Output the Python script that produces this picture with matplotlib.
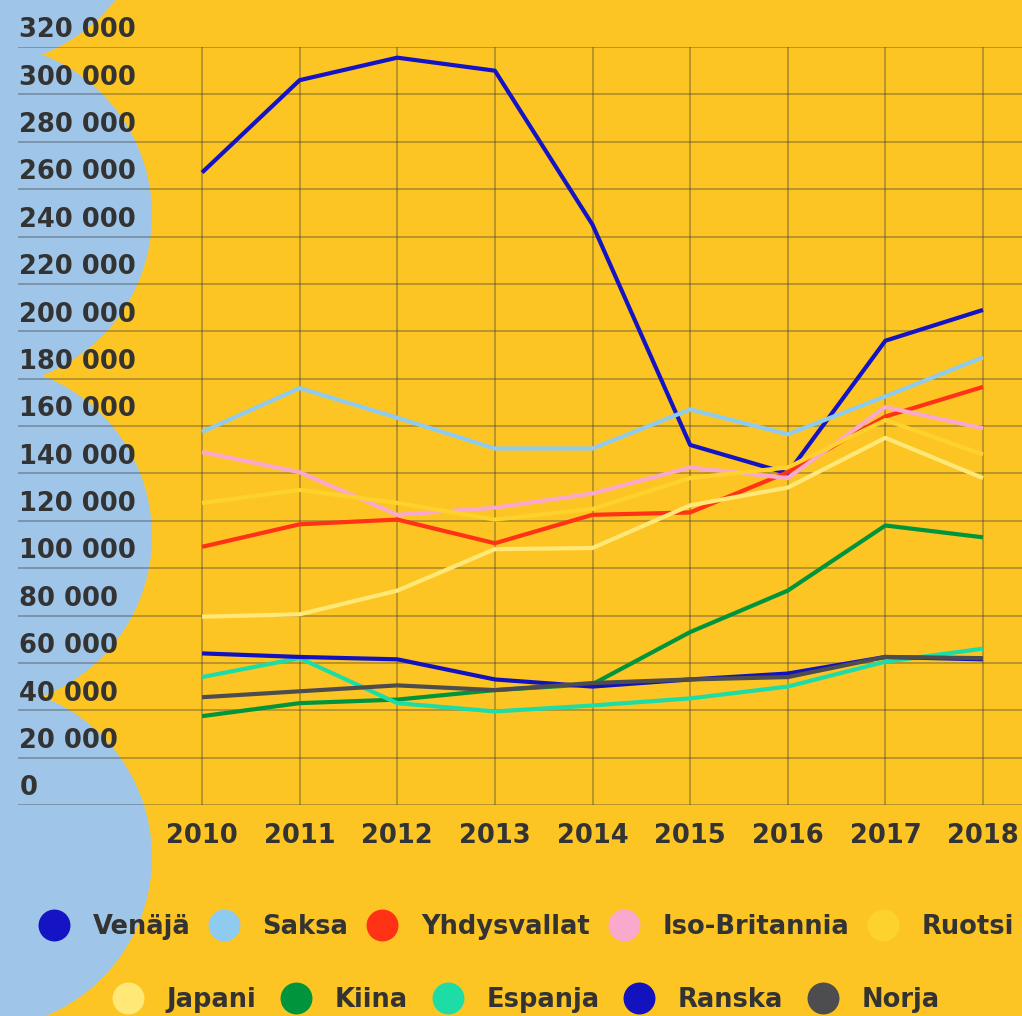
import matplotlib
matplotlib.use("Agg")
import matplotlib.pyplot as plt
from matplotlib.patches import Circle
from matplotlib.lines import Line2D

years = [2010, 2011, 2012, 2013, 2014, 2015, 2016, 2017, 2018]

venaja = [267000, 306000, 315500, 310000, 245000, 152000, 140000, 196000, 209000]
saksa = [157500, 176000, 163500, 150500, 150500, 167000, 156500, 172500, 189000]
yhdysvallat = [109000, 118500, 120500, 110500, 122500, 123500, 140500, 164000, 176500]
iso_britannia = [149000, 140500, 122500, 125500, 131500, 142500, 138000, 168000, 159000]
ruotsi = [127500, 133000, 127500, 120500, 125000, 138000, 142500, 162500, 148000]
japani = [79500, 80500, 90500, 108000, 108500, 126500, 134000, 155000, 138000]
kiina = [37500, 43000, 44500, 48500, 51000, 73000, 90500, 118000, 113000]
espanja = [54000, 62000, 43000, 39500, 42000, 45000, 50000, 60500, 66000]
ranska = [64000, 62500, 61500, 53000, 50000, 53000, 55500, 62500, 61500]
norja = [45500, 48000, 50500, 48500, 51500, 53000, 54000, 62500, 62000]

names = ["Venäjä", "Saksa", "Yhdysvallat", "Iso-Britannia", "Ruotsi",
         "Japani", "Kiina", "Espanja", "Ranska", "Norja"]
series = [venaja, saksa, yhdysvallat, iso_britannia, ruotsi,
          japani, kiina, espanja, ranska, norja]
colors = ["#1414c4", "#8ecbef", "#ff3216", "#f8a9cc", "#fdd22c",
          "#ffe877", "#00953d", "#1edca6", "#1212bf", "#4d4d4f"]

yticks = list(range(0, 320001, 20000))
ytick_labels = [f"{v:,}".replace(",", " ") for v in yticks]

BG = "#fdc523"
BLUE = "#9fc6e8"
TXT = "#333333"

fig = plt.figure(figsize=(10.22, 10.16), dpi=100, facecolor=BG)

# wavy blue shape on the left (background decoration, pixel coords)
bg = fig.add_axes([0, 0, 1, 1], zorder=-1)
bg.set_xlim(0, 1022)
bg.set_ylim(1016, 0)
bg.axis("off")
for cy in [-106, 215, 536, 857, 1178]:
    bg.add_patch(Circle((-20, cy), 172, color=BLUE, lw=0))

ax = fig.add_axes([18 / 1022, 211 / 1016, 1 - 18 / 1022, 758 / 1016])
ax.set_facecolor("none")
ax.set_xlim(2010 - 184 / 97.6, 2018 + 39 / 97.6)
ax.set_ylim(0, 320000)

# grid
for v in yticks:
    ax.axhline(v, color="#3a3a3a", alpha=0.38, lw=1.3, zorder=1)
for yr in years:
    ax.plot([yr, yr], [0, 320000], color="#3a3a3a", alpha=0.38, lw=1.3, zorder=1)

for name, vals, c in zip(names, series, colors):
    ax.plot(years, vals, color=c, lw=3.0, solid_capstyle="butt", zorder=3)

for s in ax.spines.values():
    s.set_visible(False)
ax.set_yticks([])
ax.set_xticks(years)
ax.set_xticklabels([str(y) for y in years], fontsize=18.5, fontweight="bold", color=TXT)
ax.tick_params(axis="x", length=0, pad=13)

for v, lab in zip(yticks, ytick_labels):
    ax.annotate(lab, xy=(0, v), xycoords=("axes fraction", "data"),
                xytext=(1, 7), textcoords="offset points",
                ha="left", va="baseline", fontsize=18.5, fontweight="bold",
                color=TXT)

def make_handles(idx):
    return [Line2D([], [], lw=0, marker="o", markersize=23,
                   markerfacecolor=colors[i], markeredgewidth=0) for i in idx]

row1 = [0, 1, 2, 3, 4]
row2 = [5, 6, 7, 8, 9]
for idx, yy, cs in [(row1, 89 / 1016, 0.82), (row2, 16 / 1016, 1.05)]:
    leg = fig.legend(make_handles(idx), [names[i] for i in idx],
                     loc="center", bbox_to_anchor=(0.516, yy), ncol=5,
                     frameon=False, handlelength=1.0, handletextpad=1.0,
                     columnspacing=cs, borderpad=0,
                     prop={"size": 18.5, "weight": "bold"})
    for t in leg.get_texts():
        t.set_color(TXT)

fig.savefig("out.png", dpi=100, facecolor=BG)
